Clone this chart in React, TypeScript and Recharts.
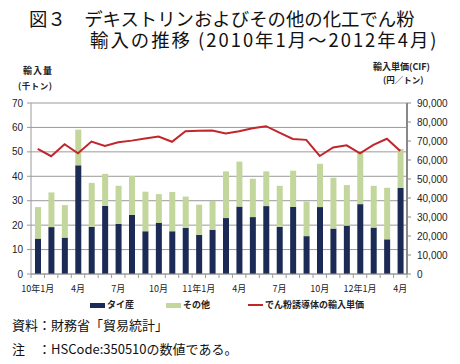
import React from "react";
import { ComposedChart, Bar, Line, XAxis, YAxis, CartesianGrid } from "recharts";

const months = [
  "2010-01", "2010-02", "2010-03", "2010-04", "2010-05", "2010-06", "2010-07", "2010-08", "2010-09", "2010-10", "2010-11", "2010-12",
  "2011-01", "2011-02", "2011-03", "2011-04", "2011-05", "2011-06", "2011-07", "2011-08", "2011-09", "2011-10", "2011-11", "2011-12",
  "2012-01", "2012-02", "2012-03", "2012-04",
];
const tickLabels = ["10年1月", "", "", "4月", "", "", "7月", "", "", "10月", "", "", "11年1月", "", "", "4月", "", "", "7月", "", "", "10月", "", "", "12年1月", "", "", "4月"];
const thai = [14.5, 19.2, 14.9, 44.5, 19.3, 27.9, 20.5, 24.2, 17.5, 21.0, 17.5, 18.9, 16.0, 18.1, 22.9, 27.6, 23.3, 27.8, 19.3, 27.5, 15.5, 27.4, 18.6, 19.8, 28.6, 19.0, 14.2, 35.2];
const others = [12.9, 14.2, 13.3, 14.6, 18.0, 13.1, 15.6, 15.9, 16.2, 11.7, 16.1, 12.8, 12.4, 11.8, 19.1, 18.4, 15.7, 14.2, 16.8, 14.8, 14.2, 17.7, 20.8, 16.6, 21.2, 17.1, 21.1, 16.0];
const price = [65800, 62000, 68300, 63500, 69700, 67400, 69300, 70200, 71300, 72300, 69600, 75100, 75400, 75500, 74000, 75100, 76700, 77800, 74400, 71100, 70600, 62100, 66600, 67700, 63500, 68000, 71200, 64700];
const leftTicks = [0, 10, 20, 30, 40, 50, 60, 70];
const rightTicks = [0, 10000, 20000, 30000, 40000, 50000, 60000, 70000, 80000, 90000];

const data = months.map((m, i) => ({ month: m, label: tickLabels[i], thai: thai[i], others: others[i], price: price[i] }));

const NAVY = "#1c2a56";
const GREEN = "#c3d69b";
const RED = "#c0262b";
const GRID = "#9a9a9a";
const JP = "'Noto Sans CJK JP', sans-serif";

const PLOT_LEFT = 31;
const PLOT_RIGHT = 407;
const BAND = (PLOT_RIGHT - PLOT_LEFT) / months.length;

const XTick = (props: any) => {
  const { x, y, payload } = props;
  const idx = payload.index;
  const label = tickLabels[idx];
  return (
    <g>
      <line x1={x - BAND / 2} x2={x - BAND / 2} y1={y - 8} y2={y - 4} stroke={GRID} />
      {idx === months.length - 1 && (
        <line x1={x + BAND / 2} x2={x + BAND / 2} y1={y - 8} y2={y - 4} stroke={GRID} />
      )}
      {label && (
        <text x={x} y={y + 10} textAnchor="middle" fontSize={9} fontFamily={JP} fill="#222">
          {label}
        </text>
      )}
    </g>
  );
};

const fmt = (v: number) => v.toLocaleString("en-US");

export default function App() {
  return (
    <div style={{ position: "absolute", left: 0, top: 0, width: 460, height: 364, background: "#fff", fontFamily: JP }}>
      <div style={{ position: "absolute", left: 29, top: 8, fontSize: 18.4, lineHeight: "20.5px", whiteSpace: "nowrap", color: "#111" }}>
        図３　デキストリンおよびその他の化工でん粉
        <br />
        <span style={{ marginLeft: 61, letterSpacing: 2 }}>輸入の推移 (2010年1月～2012年4月)</span>
      </div>
      <div style={{ position: "absolute", left: 23, top: 65, fontSize: 9, lineHeight: "12px", fontWeight: 700, letterSpacing: 1, color: "#222", whiteSpace: "nowrap" }}>
        輸入量
      </div>
      <div style={{ position: "absolute", left: 18, top: 79, fontSize: 8.5, lineHeight: "12px", fontWeight: 700, letterSpacing: 0.5, color: "#222", whiteSpace: "nowrap" }}>
        (千トン)
      </div>
      <div style={{ position: "absolute", left: 373, top: 61, fontSize: 9, lineHeight: "12px", fontWeight: 700, color: "#222", whiteSpace: "nowrap" }}>
        輸入単価(CIF)
      </div>
      <div style={{ position: "absolute", left: 383, top: 73, fontSize: 8.5, lineHeight: "12px", fontWeight: 700, color: "#222", whiteSpace: "nowrap" }}>
        (円／トン)
      </div>

      <ComposedChart
        width={460}
        height={364}
        data={data}
        margin={{ top: 103, right: 3, bottom: 70, left: 6 }}
        barGap={0}
      >
        <CartesianGrid vertical={false} stroke={GRID} strokeWidth={1} yAxisId="left" />
        <XAxis
          dataKey="month"
          height={20}
          interval={0}
          tickLine={false}
          axisLine={{ stroke: GRID }}
          tick={<XTick />}
          tickSize={0}
          tickMargin={8}
        />
        <YAxis
          yAxisId="left"
          width={25}
          domain={[0, 70]}
          ticks={leftTicks}
          interval={0}
          tickSize={4}
          tickMargin={4}
          tickLine={{ stroke: GRID }}
          axisLine={{ stroke: GRID }}
          tick={{ fontSize: 10, fill: "#222", fontFamily: "'Liberation Sans', Arial, sans-serif" }}
        />
        <YAxis
          yAxisId="right"
          orientation="right"
          width={50}
          domain={[0, 90000]}
          ticks={rightTicks}
          interval={0}
          tickSize={4}
          tickMargin={6}
          tickFormatter={fmt}
          tickLine={{ stroke: "#888" }}
          axisLine={{ stroke: "#888", strokeWidth: 2 }}
          tick={{ fontSize: 10, fill: "#222", fontFamily: "'Liberation Sans', Arial, sans-serif", textAnchor: "start" }}
        />
        <Bar yAxisId="left" dataKey="thai" stackId="a" fill={NAVY} barSize={6} isAnimationActive={false} />
        <Bar yAxisId="left" dataKey="others" stackId="a" fill={GREEN} barSize={6} isAnimationActive={false} />
        <Line yAxisId="right" dataKey="price" type="linear" stroke={RED} strokeWidth={2} dot={false} isAnimationActive={false} />
      </ComposedChart>

      <div style={{ position: "absolute", left: 0, top: 299, width: 460, height: 12, fontSize: 9, fontWeight: 700, color: "#222" }}>
        <div style={{ position: "absolute", left: 90, top: 4, width: 15, height: 5, background: NAVY }} />
        <div style={{ position: "absolute", left: 107, top: 0, lineHeight: "12px", whiteSpace: "nowrap" }}>タイ産</div>
        <div style={{ position: "absolute", left: 166, top: 4, width: 15, height: 5, background: GREEN }} />
        <div style={{ position: "absolute", left: 183, top: 0, lineHeight: "12px", whiteSpace: "nowrap" }}>その他</div>
        <div style={{ position: "absolute", left: 248, top: 5, width: 15, height: 2, background: RED }} />
        <div style={{ position: "absolute", left: 265, top: 0, lineHeight: "12px", whiteSpace: "nowrap" }}>でん粉誘導体の輸入単価</div>
      </div>

      <div style={{ position: "absolute", left: 12, top: 316, fontSize: 13, lineHeight: "18px", whiteSpace: "nowrap", color: "#111" }}>
        資料：財務省「貿易統計」
      </div>
      <div style={{ position: "absolute", left: 12, top: 340, fontSize: 13, lineHeight: "18px", whiteSpace: "nowrap", color: "#111" }}>
        注　：HSCode:350510の数値である。
      </div>
    </div>
  );
}
